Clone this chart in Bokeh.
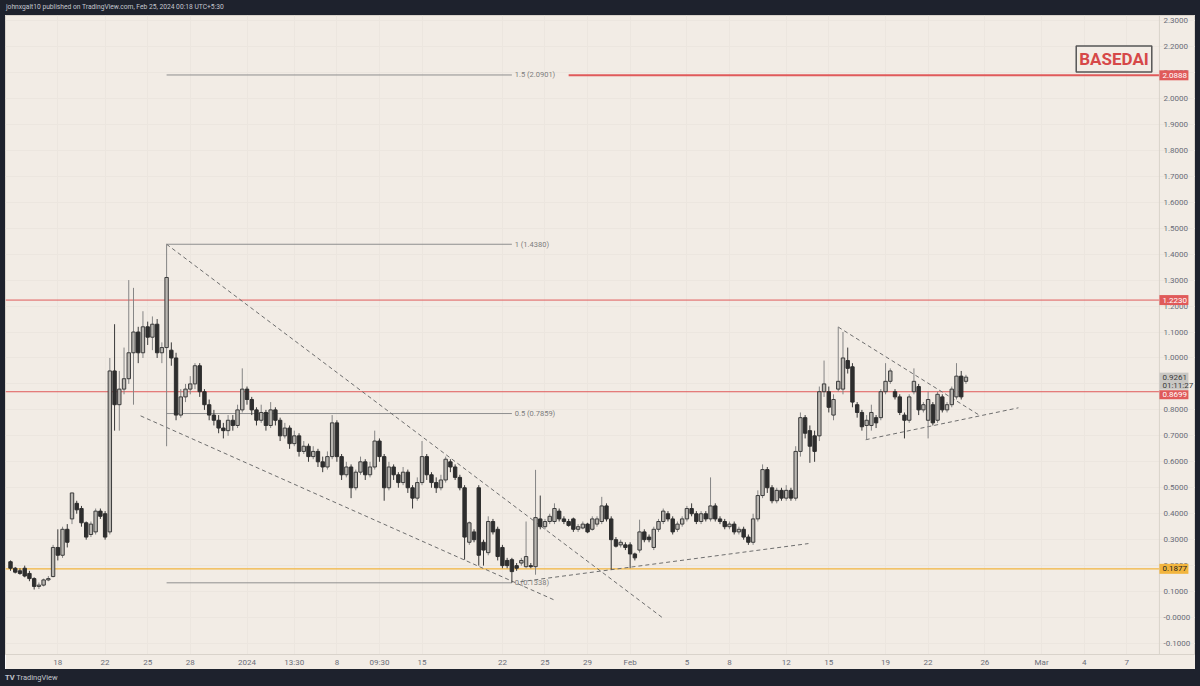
from bokeh.plotting import figure
from bokeh.models import (ColumnDataSource, Range1d, FixedTicker, CustomJSTickFormatter,
                          Label, Span, Div)
from bokeh.layouts import column, row
from bokeh.embed import file_html
from bokeh.resources import INLINE
from bokeh.core.properties import value

# ---------------- data (BASEDAI candles, one entry per bar) ----------------
opens = [0.215, 0.19, 0.18, 0.19, 0.17, 0.15, 0.12, 0.125, 0.145, 0.158,
         0.27, 0.24, 0.34, 0.38, 0.44, 0.42, 0.365, 0.32, 0.33, 0.41,
         0.40, 0.33, 0.95, 0.82, 0.88, 0.92, 1.02, 1.10, 1.02, 1.12,
         1.08, 1.13, 1.02, 1.04, 1.03, 1.00, 0.78, 0.85, 0.88, 0.90,
         0.97, 0.87, 0.82, 0.78, 0.76, 0.73, 0.72, 0.76, 0.74, 0.80,
         0.88, 0.84, 0.80, 0.76, 0.79, 0.74, 0.80, 0.76, 0.70, 0.73,
         0.67, 0.70, 0.64, 0.66, 0.62, 0.64, 0.60, 0.58, 0.62, 0.75,
         0.62, 0.55, 0.58, 0.50, 0.56, 0.60, 0.55, 0.58, 0.68, 0.62,
         0.50, 0.58, 0.55, 0.52, 0.56, 0.50, 0.46, 0.52, 0.62, 0.55,
         0.52, 0.50, 0.53, 0.60, 0.58, 0.54, 0.50, 0.29, 0.33, 0.50,
         0.29, 0.25, 0.37, 0.34, 0.27, 0.22, 0.223, 0.20, 0.21, 0.196,
         0.20, 0.196, 0.38, 0.35, 0.37, 0.37, 0.41, 0.38, 0.37, 0.38,
         0.34, 0.345, 0.36, 0.34, 0.36, 0.37, 0.43, 0.38, 0.30, 0.28,
         0.28, 0.28, 0.245, 0.26, 0.33, 0.31, 0.27, 0.34, 0.37, 0.40,
         0.38, 0.34, 0.36, 0.38, 0.42, 0.40, 0.37, 0.40, 0.38, 0.43,
         0.38, 0.37, 0.35, 0.36, 0.33, 0.34, 0.31, 0.29, 0.38, 0.47,
         0.57, 0.50, 0.45, 0.49, 0.46, 0.49, 0.46, 0.64, 0.77, 0.72,
         0.70, 0.70, 0.87, 0.87, 0.78, 0.88, 0.88, 0.99, 0.966, 0.82,
         0.79, 0.74, 0.74, 0.77, 0.77, 0.87, 0.91, 0.87, 0.85, 0.78,
         0.76, 0.87, 0.89, 0.80, 0.76, 0.82, 0.76, 0.85, 0.80, 0.82,
         0.85, 0.93, 0.91]
highs = [0.22, 0.195, 0.19, 0.20, 0.18, 0.155, 0.135, 0.15, 0.16, 0.28,
         0.34, 0.35, 0.36, 0.48, 0.45, 0.43, 0.37, 0.37, 0.42, 0.42,
         0.41, 1.00, 1.13, 0.95, 1.04, 1.30, 1.27, 1.12, 1.18, 1.14,
         1.16, 1.15, 1.06, 1.438, 1.06, 1.02, 0.88, 0.90, 0.93, 0.98,
         0.98, 0.88, 0.84, 0.80, 0.78, 0.75, 0.78, 0.78, 0.82, 0.96,
         0.89, 0.85, 0.81, 0.82, 0.80, 0.83, 0.81, 0.77, 0.75, 0.74,
         0.72, 0.71, 0.68, 0.67, 0.66, 0.65, 0.62, 0.64, 0.78, 0.76,
         0.63, 0.60, 0.59, 0.57, 0.62, 0.61, 0.60, 0.72, 0.69, 0.63,
         0.60, 0.59, 0.56, 0.58, 0.57, 0.51, 0.54, 0.68, 0.63, 0.56,
         0.54, 0.55, 0.62, 0.61, 0.59, 0.55, 0.51, 0.37, 0.34, 0.51,
         0.30, 0.39, 0.38, 0.35, 0.28, 0.23, 0.23, 0.21, 0.23, 0.37,
         0.21, 0.569, 0.47, 0.38, 0.40, 0.44, 0.42, 0.39, 0.38, 0.385,
         0.36, 0.37, 0.365, 0.39, 0.39, 0.465, 0.44, 0.39, 0.31, 0.30,
         0.29, 0.29, 0.25, 0.377, 0.34, 0.32, 0.35, 0.38, 0.42, 0.41,
         0.39, 0.37, 0.39, 0.43, 0.44, 0.41, 0.41, 0.41, 0.54, 0.44,
         0.39, 0.38, 0.37, 0.37, 0.35, 0.35, 0.32, 0.40, 0.49, 0.59,
         0.58, 0.51, 0.50, 0.50, 0.51, 0.50, 0.66, 0.79, 0.78, 0.74,
         0.72, 0.89, 0.99, 0.89, 0.86, 1.12, 1.10, 1.04, 0.98, 0.83,
         0.80, 0.78, 0.82, 0.78, 0.88, 0.98, 0.96, 0.88, 0.86, 0.79,
         0.86, 0.96, 0.90, 0.83, 0.87, 0.83, 0.87, 0.86, 0.83, 0.89,
         0.98, 0.95, 0.935]
lows = [0.18, 0.17, 0.165, 0.155, 0.14, 0.108, 0.11, 0.12, 0.14, 0.155,
        0.22, 0.23, 0.27, 0.36, 0.40, 0.35, 0.30, 0.31, 0.32, 0.38,
        0.30, 0.32, 0.72, 0.72, 0.86, 0.90, 0.82, 0.98, 1.00, 1.05,
        1.03, 1.00, 0.98, 0.66, 0.97, 0.76, 0.77, 0.83, 0.86, 0.88,
        0.85, 0.80, 0.76, 0.74, 0.71, 0.69, 0.70, 0.72, 0.73, 0.79,
        0.82, 0.78, 0.74, 0.75, 0.72, 0.73, 0.74, 0.68, 0.69, 0.65,
        0.66, 0.62, 0.63, 0.60, 0.61, 0.58, 0.56, 0.57, 0.61, 0.60,
        0.53, 0.54, 0.46, 0.49, 0.55, 0.53, 0.54, 0.57, 0.60, 0.45,
        0.49, 0.53, 0.50, 0.51, 0.48, 0.42, 0.45, 0.51, 0.53, 0.50,
        0.48, 0.49, 0.52, 0.56, 0.53, 0.49, 0.223, 0.28, 0.29, 0.20,
        0.20, 0.24, 0.32, 0.22, 0.19, 0.19, 0.1338, 0.18, 0.20, 0.19,
        0.19, 0.165, 0.34, 0.34, 0.36, 0.36, 0.37, 0.36, 0.35, 0.33,
        0.33, 0.34, 0.325, 0.335, 0.35, 0.36, 0.37, 0.185, 0.27, 0.27,
        0.26, 0.19, 0.22, 0.25, 0.29, 0.29, 0.26, 0.33, 0.36, 0.37,
        0.32, 0.33, 0.35, 0.37, 0.39, 0.36, 0.36, 0.37, 0.37, 0.37,
        0.36, 0.34, 0.34, 0.32, 0.32, 0.30, 0.28, 0.28, 0.37, 0.46,
        0.48, 0.44, 0.44, 0.45, 0.45, 0.45, 0.45, 0.62, 0.69, 0.596,
        0.60, 0.68, 0.85, 0.79, 0.76, 0.87, 0.86, 0.94, 0.81, 0.77,
        0.72, 0.685, 0.72, 0.73, 0.76, 0.86, 0.90, 0.84, 0.78, 0.69,
        0.75, 0.86, 0.78, 0.79, 0.69, 0.74, 0.75, 0.79, 0.79, 0.81,
        0.84, 0.84, 0.90]
closes = [0.19, 0.175, 0.17, 0.16, 0.15, 0.12, 0.125, 0.145, 0.15, 0.27,
          0.24, 0.34, 0.29, 0.48, 0.415, 0.365, 0.31, 0.36, 0.41, 0.39,
          0.31, 0.95, 0.82, 0.88, 0.92, 1.02, 1.10, 1.02, 1.12, 1.08,
          1.13, 1.02, 1.04, 1.31, 1.00, 0.78, 0.85, 0.88, 0.90, 0.97,
          0.87, 0.82, 0.78, 0.76, 0.73, 0.72, 0.76, 0.74, 0.80, 0.88,
          0.84, 0.80, 0.76, 0.79, 0.74, 0.80, 0.76, 0.70, 0.73, 0.67,
          0.70, 0.64, 0.66, 0.62, 0.64, 0.60, 0.58, 0.62, 0.75, 0.62,
          0.55, 0.58, 0.50, 0.56, 0.60, 0.55, 0.58, 0.68, 0.62, 0.50,
          0.58, 0.55, 0.52, 0.56, 0.50, 0.46, 0.52, 0.62, 0.55, 0.52,
          0.50, 0.53, 0.61, 0.58, 0.54, 0.50, 0.31, 0.365, 0.30, 0.24,
          0.26, 0.37, 0.33, 0.235, 0.20, 0.20, 0.177, 0.19, 0.22, 0.235,
          0.196, 0.385, 0.35, 0.37, 0.39, 0.42, 0.38, 0.37, 0.355, 0.34,
          0.35, 0.36, 0.33, 0.38, 0.38, 0.43, 0.38, 0.30, 0.275, 0.29,
          0.27, 0.245, 0.23, 0.33, 0.30, 0.30, 0.34, 0.37, 0.41, 0.38,
          0.33, 0.36, 0.38, 0.42, 0.40, 0.37, 0.40, 0.38, 0.43, 0.38,
          0.37, 0.35, 0.36, 0.33, 0.34, 0.31, 0.29, 0.38, 0.47, 0.57,
          0.50, 0.45, 0.49, 0.46, 0.49, 0.46, 0.64, 0.77, 0.71, 0.66,
          0.64, 0.87, 0.90, 0.81, 0.84, 0.91, 1.00, 0.96, 0.83, 0.79,
          0.735, 0.76, 0.79, 0.75, 0.87, 0.91, 0.95, 0.85, 0.79, 0.76,
          0.85, 0.91, 0.80, 0.82, 0.84, 0.75, 0.86, 0.80, 0.82, 0.88,
          0.93, 0.85, 0.9261]

# time axis: bar index of each date label
date_tick_bars = [10, 20, 29, 38, 50, 60, 69, 78, 87, 104, 113, 122,
                  131, 143, 152, 164, 173, 185, 194, 206, 218, 227, 236]
date_tick_labels = ["18", "22", "25", "28", "2024", "13:30", "8", "09:30", "15",
                    "22", "25", "29", "Feb", "5", "8", "12", "15", "19", "22",
                    "26", "Mar", "4", "7"]
price_ticks = [round(k / 10, 1) for k in range(-1, 24)]

# horizontal levels
red_levels = [1.2230, 0.8699]
ray_level = 2.0888
ray_start_bar = 118
support_level = 0.1877
last_price = 0.9261
countdown = "01:11:27"

# fibonacci retracement
fib_high, fib_low = 1.4380, 0.1338
fib_high_bar, fib_low_bar = 33, 106
fib_ratios = [0, 0.5, 1, 1.5]

# dashed trend lines (bar index, price)
trend_x0 = [33, 27.5, 107.8, 175, 180.8]
trend_y0 = [1.438, 0.777, 0.138, 1.119, 0.685]
trend_x1 = [137.8, 114.8, 168.7, 204.7, 213.1]
trend_y1 = [0.0, 0.069, 0.285, 0.781, 0.808]

# ---------------- styling / layout ----------------
BG = "#f2ece5"
DARK = "#1e222d"
AXIS_TXT = "#6a6d78"
RED = "#e05a5a"
ORANGE = "#f2b53e"
SEP = "#d9d3cb"
FONT = "Roboto"

X_START, X_END = -1.06, 250.53      # visible bar range
SCALE_BAR = 242.9                    # where the price scale column begins
TAG_W = 29                           # px width of price tags

n = len(closes)
xs = list(range(n))
up = [c >= o for o, c in zip(opens, closes)]
src = ColumnDataSource(dict(
    x=xs,
    top=[max(o, c) for o, c in zip(opens, closes)],
    bottom=[min(o, c) for o, c in zip(opens, closes)],
    high=highs, low=lows,
    fill=["#b9b6b1" if u else "#2e2e2e" for u in up],
    line=["#3c3c3c" if u else "#2e2e2e" for u in up],
    wick=["#858585" if u else "#3a3a3a" for u in up],
))

p = figure(width=1190, height=654, x_range=Range1d(X_START, X_END),
           y_range=Range1d(-0.1423, 2.3192), output_backend="svg",
           toolbar_location=None, y_axis_location="right",
           min_border_left=0, min_border_top=0, min_border_right=0,
           min_border_bottom=14, background_fill_color=BG,
           border_fill_color=BG, outline_line_color=SEP)

# axes (price labels drawn inside the right-hand price column)
p.yaxis.ticker = FixedTicker(ticks=price_ticks)
p.yaxis.formatter = CustomJSTickFormatter(
    code="return Math.abs(tick) < 1e-9 ? '-0.0000' : tick.toFixed(4);")
p.xaxis.ticker = FixedTicker(ticks=date_tick_bars)
p.xaxis.major_label_overrides = {b: l for b, l in zip(date_tick_bars, date_tick_labels)}
for ax in (p.xaxis, p.yaxis):
    ax.major_tick_line_color = None
    ax.minor_tick_line_color = None
    ax.major_tick_out = 0
    ax.major_tick_in = 0
    ax.major_label_text_font_size = "8px"
    ax.major_label_text_color = AXIS_TXT
    ax.major_label_text_font = FONT
p.xaxis.axis_line_color = SEP
p.xaxis.major_label_standoff = 3
p.yaxis.axis_line_color = None
p.yaxis.major_label_standoff = -32
p.xgrid.ticker = FixedTicker(ticks=date_tick_bars)
p.ygrid.ticker = FixedTicker(ticks=price_ticks)
p.grid.grid_line_color = "#ece6df"

# price scale separator
p.add_layout(Span(location=SCALE_BAR, dimension="height", line_color=SEP, line_width=1))

# horizontal levels
p.segment(x0=[X_START] * len(red_levels), y0=red_levels,
          x1=[SCALE_BAR] * len(red_levels), y1=red_levels, line_color=RED, line_width=1)
p.segment(x0=[X_START], y0=[support_level], x1=[SCALE_BAR], y1=[support_level],
          line_color=ORANGE, line_width=1.2)
p.segment(x0=[ray_start_bar], y0=[ray_level], x1=[SCALE_BAR], y1=[ray_level],
          line_color=RED, line_width=2)

# fib
fib_prices = [fib_low + r * (fib_high - fib_low) for r in fib_ratios]
p.segment(x0=[fib_high_bar] * len(fib_ratios), y0=fib_prices,
          x1=[fib_low_bar] * len(fib_ratios), y1=fib_prices,
          line_color="#8f8f8f", line_width=1)
p.text(x=[fib_low_bar + 0.6] * len(fib_ratios), y=fib_prices,
       text=[f"{r:g} ({v:.4f})" for r, v in zip(fib_ratios, fib_prices)],
       text_font=value(FONT), text_font_size="7.5px", text_color="#7d7d7d",
       text_baseline="middle", text_align="left")

# dashed trendlines
p.segment(x0=trend_x0, y0=trend_y0, x1=trend_x1, y1=trend_y1,
          line_color="#6e6e6e", line_width=1, line_dash="4 3")

# candles
p.segment(x0="x", y0="low", x1="x", y1="high", line_color="wick", line_width=1, source=src)
p.vbar(x="x", width=0.72, top="top", bottom="bottom", fill_color="fill",
       line_color="line", line_width=1, source=src)

# symbol box
p.add_layout(Label(x=233.3, y=2.152, text="BASEDAI", text_align="center",
                   text_baseline="middle", text_font=FONT, text_font_size="17px",
                   text_font_style="bold", text_color="#d64848",
                   border_line_color="#555555", border_line_width=1.5,
                   background_fill_color=BG, padding=3))

# price-scale tags (drawn above the axis labels)
bar_px = 1190 / (X_END - X_START)
tag_cx = SCALE_BAR + (TAG_W / 2) / bar_px
tag_tx = SCALE_BAR + 3 / bar_px

def tag(y_box, h, lines, bg, fg):
    p.rect(x=[tag_cx], y=[y_box], width=TAG_W, height=h, width_units="screen",
           height_units="screen", fill_color=bg, line_color=None, level="overlay")
    ys = [y for y, _ in lines]
    p.text(x=[tag_tx] * len(lines), y=ys, text=[t for _, t in lines],
           text_font=value(FONT), text_font_size="8px", text_color=fg,
           text_baseline="middle", text_align="left", level="overlay")

nudge = 3 / 260   # one tag sits just below the last-price box
tag(ray_level, 10, [(ray_level, f"{ray_level:.4f}")], RED, "white")
tag(red_levels[0], 10, [(red_levels[0], f"{red_levels[0]:.4f}")], RED, "white")
tag(last_price - 4 / 260, 17, [(last_price, f"{last_price:.4f}"),
                               (last_price - 8 / 260, countdown)], "#c9c7c3", "#3a3a3a")
tag(red_levels[1] - nudge, 9, [(red_levels[1] - nudge, f"{red_levels[1]:.4f}")], RED, "white")
tag(support_level, 10, [(support_level, f"{support_level:.4f}")], ORANGE, "#222222")

# dark frame of the published snapshot
def dark(w, h, html="", lh=None, pad=6, fs="8px"):
    st = {"background-color": DARK, "color": "#c3c6ce", "font-size": fs,
          "font-family": FONT, "padding-left": f"{pad}px", "box-sizing": "border-box",
          "white-space": "nowrap", "overflow": "hidden"}
    if lh:
        st["line-height"] = f"{lh}px"
    return Div(text=html, width=w, height=h, margin=(0, 0, 0, 0), styles=st)

header = dark(1200, 15, "johnxgalt10 published on TradingView.com, Feb 25, 2024 00:18 UTC+5:30",
              15, 6, "6.7px")
footer = dark(1200, 17, "<b>TV</b> TradingView", 17, 5, "7.5px")
left_pad = dark(5, 654, pad=0)
right_pad = dark(5, 654, pad=0)

layout = column(header, row(left_pad, p, right_pad, spacing=0), footer, spacing=0)
open("out.html", "w").write(file_html(layout, INLINE))
